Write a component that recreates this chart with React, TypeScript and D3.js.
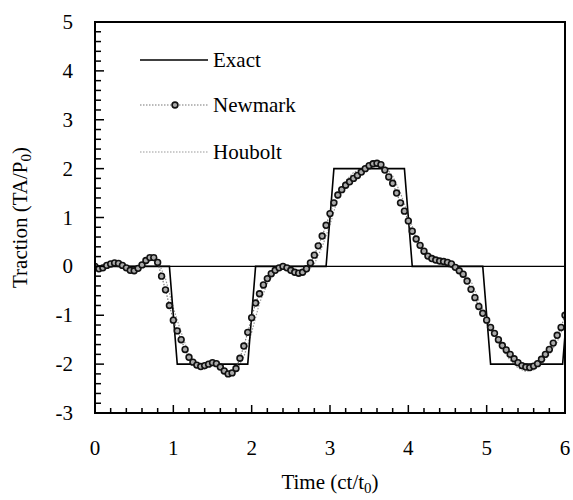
import React from "react";
import * as d3 from "d3";

const newmarkT: number[] = d3.range(0, 121).map((i) => i * 0.05);
const newmarkV: number[] = [
  0.0, -0.05, -0.03, 0.02, 0.05, 0.07, 0.06, 0.02, -0.03, -0.08,
  -0.09, -0.04, 0.03, 0.12, 0.18, 0.18, 0.08, -0.2, -0.48, -0.8,
  -1.1, -1.32, -1.5, -1.7, -1.86, -1.96, -2.02, -2.05, -2.03, -2.0,
  -1.97, -1.99, -2.06, -2.14, -2.2, -2.18, -2.09, -1.88, -1.63, -1.35,
  -1.05, -0.75, -0.56, -0.38, -0.25, -0.15, -0.08, -0.03, 0.0, -0.03,
  -0.08, -0.12, -0.14, -0.12, -0.05, 0.07, 0.23, 0.42, 0.62, 0.84,
  1.08, 1.3, 1.46, 1.57, 1.66, 1.73, 1.8, 1.86, 1.93, 2.0,
  2.06, 2.1, 2.11, 2.08, 1.97, 1.83, 1.7, 1.5, 1.3, 1.13,
  0.93, 0.72, 0.56, 0.43, 0.31, 0.21, 0.16, 0.13, 0.11, 0.1,
  0.08, 0.05, -0.02, -0.09, -0.16, -0.3, -0.47, -0.64, -0.82, -0.96,
  -1.1, -1.25, -1.37, -1.5, -1.62, -1.71, -1.8, -1.89, -1.97, -2.03,
  -2.06, -2.07, -2.04, -1.99, -1.9, -1.8, -1.7, -1.57, -1.41, -1.25,
  -1.0,
];

const houboltT: number[] = d3.range(0, 61).map((i) => i * 0.1);
const houboltV: number[] = [
  0, -0.02, 0.03, 0.05, 0.0, -0.07, -0.02, 0.12, 0.12, -0.25,
  -0.85, -1.35, -1.8, -2.08, -2.1, -2.0, -2.02, -2.15, -2.15, -1.85,
  -1.35, -0.75, -0.35, -0.12, -0.02, -0.06, -0.15, -0.12, 0.05, 0.4,
  0.85, 1.4, 1.75, 1.92, 2.0, 2.08, 2.12, 2.05, 1.85, 1.5,
  1.05, 0.6, 0.3, 0.12, 0.05, 0.0, -0.05, -0.12, -0.3, -0.7,
  -1.05, -1.4, -1.7, -1.92, -2.08, -2.15, -2.12, -2.0, -1.8, -1.55,
  -1.15,
];

const exactT: number[] = [0, 0.95, 1.05, 1.95, 2.05, 2.95, 3.05, 3.95, 4.05, 4.95, 5.05, 5.97, 6.0];
const exactV: number[] = [0, 0, -2, -2, 0, 0, 2, 2, 0, 0, -2, -2, -1.4];

const xTicks: number[] = [0, 1, 2, 3, 4, 5, 6];
const yTicks: number[] = [-3, -2, -1, 0, 1, 2, 3, 4, 5];
const legendLabels: string[] = ["Exact", "Newmark", "Houbolt"];

const W = 573;
const H = 500;
const M = { left: 95, right: 8, top: 22, bottom: 87 };
const FONT = "'Liberation Serif', 'Times New Roman', serif";

export default function App() {
  const x = d3.scaleLinear().domain([0, 6]).range([M.left, W - M.right]);
  const y = d3.scaleLinear().domain([-3, 5]).range([H - M.bottom, M.top]);
  const line = d3
    .line<[number, number]>()
    .x((d) => x(d[0]))
    .y((d) => y(d[1]));

  const newmark: [number, number][] = newmarkT.map((t, i) => [t, newmarkV[i]]);
  const houbolt: [number, number][] = houboltT.map((t, i) => [t, houboltV[i]]);
  const exact: [number, number][] = exactT.map((t, i) => [t, exactV[i]]);

  const xMinor = d3.range(0, 31).map((i) => i * 0.2);
  const yMinor = d3.range(0, 41).map((i) => -3 + i * 0.2);

  const x0 = x(0), x1 = x(6), y0 = y(-3), y1 = y(5);

  return (
    <svg width={W} height={H} style={{ position: "absolute", left: 0, top: 0, background: "#fff" }}>
      <defs>
        <clipPath id="plot">
          <rect x={x0} y={y1} width={x1 - x0} height={y0 - y1} />
        </clipPath>
      </defs>
      <g clipPath="url(#plot)">
        <line x1={x0} x2={x1} y1={y(0)} y2={y(0)} stroke="#000" strokeWidth={1.2} />
        <path d={line(houbolt) ?? ""} fill="none" stroke="#999" strokeWidth={1.2} strokeDasharray="1.5,1.5" />
        <path d={line(exact) ?? ""} fill="none" stroke="#000" strokeWidth={1.6} />
        <path d={line(newmark) ?? ""} fill="none" stroke="#777" strokeWidth={1.2} strokeDasharray="1.5,1.5" />
        {newmark.map((d, i) => (
          <circle key={i} cx={x(d[0])} cy={y(d[1])} r={2.9} fill="#aaa" stroke="#111" strokeWidth={1.6} />
        ))}
      </g>
      <rect x={x0} y={y1} width={x1 - x0} height={y0 - y1} fill="none" stroke="#000" strokeWidth={2} />
      {xMinor.map((t, i) => {
        const major = Math.abs(t - Math.round(t)) < 1e-6;
        return <line key={"xt" + i} x1={x(t)} x2={x(t)} y1={y0} y2={y0 - (major ? 8 : 5)} stroke="#000" strokeWidth={1.5} />;
      })}
      {yMinor.map((v, i) => {
        const major = Math.abs(v - Math.round(v)) < 1e-6;
        return <line key={"yt" + i} x1={x0} x2={x0 + (major ? 9 : 6)} y1={y(v)} y2={y(v)} stroke="#000" strokeWidth={1.5} />;
      })}
      {xTicks.map((t) => (
        <text key={"xl" + t} x={x(t)} y={y0 + 42} textAnchor="middle" fontFamily={FONT} fontSize={21}>{t}</text>
      ))}
      {yTicks.map((v) => (
        <text key={"yl" + v} x={x0 - 22} y={y(v) + 7} textAnchor="end" fontFamily={FONT} fontSize={21}>{v}</text>
      ))}
      <text x={(x0 + x1) / 2} y={489} textAnchor="middle" fontFamily={FONT} fontSize={21}>
        Time (ct/t<tspan dy={4} fontSize={15}>0</tspan><tspan dy={-4}>)</tspan>
      </text>
      <text transform={`translate(27, ${(y0 + y1) / 2}) rotate(-90)`} textAnchor="middle" fontFamily={FONT} fontSize={21}>
        Traction (TA/P<tspan dy={4} fontSize={15}>0</tspan><tspan dy={-4}>)</tspan>
      </text>
      <g fontFamily={FONT} fontSize={21}>
        <line x1={140} x2={208} y1={60} y2={60} stroke="#000" strokeWidth={1.6} />
        <text x={213} y={67}>{legendLabels[0]}</text>
        <line x1={140} x2={208} y1={105} y2={105} stroke="#777" strokeWidth={1.2} strokeDasharray="1.5,1.5" />
        <circle cx={175} cy={105} r={2.9} fill="#aaa" stroke="#111" strokeWidth={1.6} />
        <text x={213} y={112}>{legendLabels[1]}</text>
        <line x1={140} x2={208} y1={152} y2={152} stroke="#999" strokeWidth={1.2} strokeDasharray="1.5,1.5" />
        <text x={213} y={159}>{legendLabels[2]}</text>
      </g>
    </svg>
  );
}
